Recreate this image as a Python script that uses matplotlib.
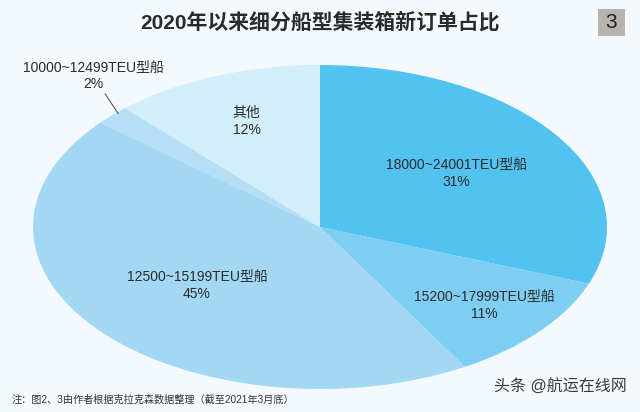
import matplotlib
matplotlib.use("Agg")
import matplotlib.pyplot as plt
import numpy as np
from matplotlib.patches import Rectangle

plt.rcParams['font.family'] = ['Liberation Sans', 'Noto Sans CJK SC', 'DejaVu Sans']

title = "2020年以来细分船型集装箱新订单占比"
categories = ["18000~24001TEU型船", "15200~17999TEU型船", "12500~15199TEU型船",
              "10000~12499TEU型船", "其他"]
values = [31, 11, 45, 2, 12]
pct_labels = ["31%", "11%", "45%", "2%", "12%"]
colors = ["#52C2F0", "#7ECDF3", "#A3D8F4", "#B6DFF5", "#D3EEFB"]
label_r = [0.58, 0.75, 0.56, None, 0.70]
note = "注：图2、3由作者根据克拉克森数据整理（截至2021年3月底）"
watermark = "头条 @航运在线网"

bg = "#F3F9FC"
fig = plt.figure(figsize=(6.4, 4.12), dpi=100, facecolor=bg)
W, H = 640, 412
cx, cy, rx, ry = 320, 227, 287, 162
ax = fig.add_axes([(cx - rx) / W, (H - cy - ry) / H, 2 * rx / W, 2 * ry / H])
ax.set_facecolor(bg)

wedges, _ = ax.pie(values, colors=colors, startangle=90, counterclock=False,
                   wedgeprops=dict(linewidth=0))
ax.set_aspect('auto')
ax.set_xlim(-1, 1)
ax.set_ylim(-1, 1)
ax.axis('off')

for w, name, pct, r in zip(wedges, categories, pct_labels, label_r):
    mid = np.deg2rad((w.theta1 + w.theta2) / 2)
    if r is not None:
        ax.text(r * np.cos(mid), r * np.sin(mid), name + "\n" + pct,
                ha='center', va='center', fontsize=10, color='#2b2b2b',
                linespacing=1.25)
    else:
        px, py = np.cos(mid) * 1.0, np.sin(mid) * 1.0
        tx, ty = -0.79, 0.84
        ax.annotate(name + "\n" + pct, xy=(px + 0.02, py + 0.01), xytext=(tx, ty),
                    ha='center', va='bottom', fontsize=10, color='#2b2b2b',
                    linespacing=1.2,
                    arrowprops=dict(arrowstyle='-', color='#444444', lw=0.7,
                                    shrinkA=0, shrinkB=0))

fig.text(0.5, 1 - 22 / H, title, ha='center', va='center', fontsize=15,
         color='#2a2a2a', fontweight='bold')
fig.patches.append(Rectangle((598 / W, 1 - 36 / H), 27 / W, 27 / H,
                             transform=fig.transFigure, facecolor='#B8B3AE',
                             edgecolor='none'))
fig.text(611.5 / W, 1 - 22.5 / H, "3", ha='center', va='center', fontsize=15,
         color='#222222')
fig.text(12 / W, 1 - 400 / H, note, ha='left', va='center', fontsize=7.3,
         color='#333333')
fig.text(627 / W, 1 - 386 / H, watermark, ha='right', va='center', fontsize=11.5,
         color='#3a3a3a')

fig.savefig("out.png", dpi=100, facecolor=bg)
